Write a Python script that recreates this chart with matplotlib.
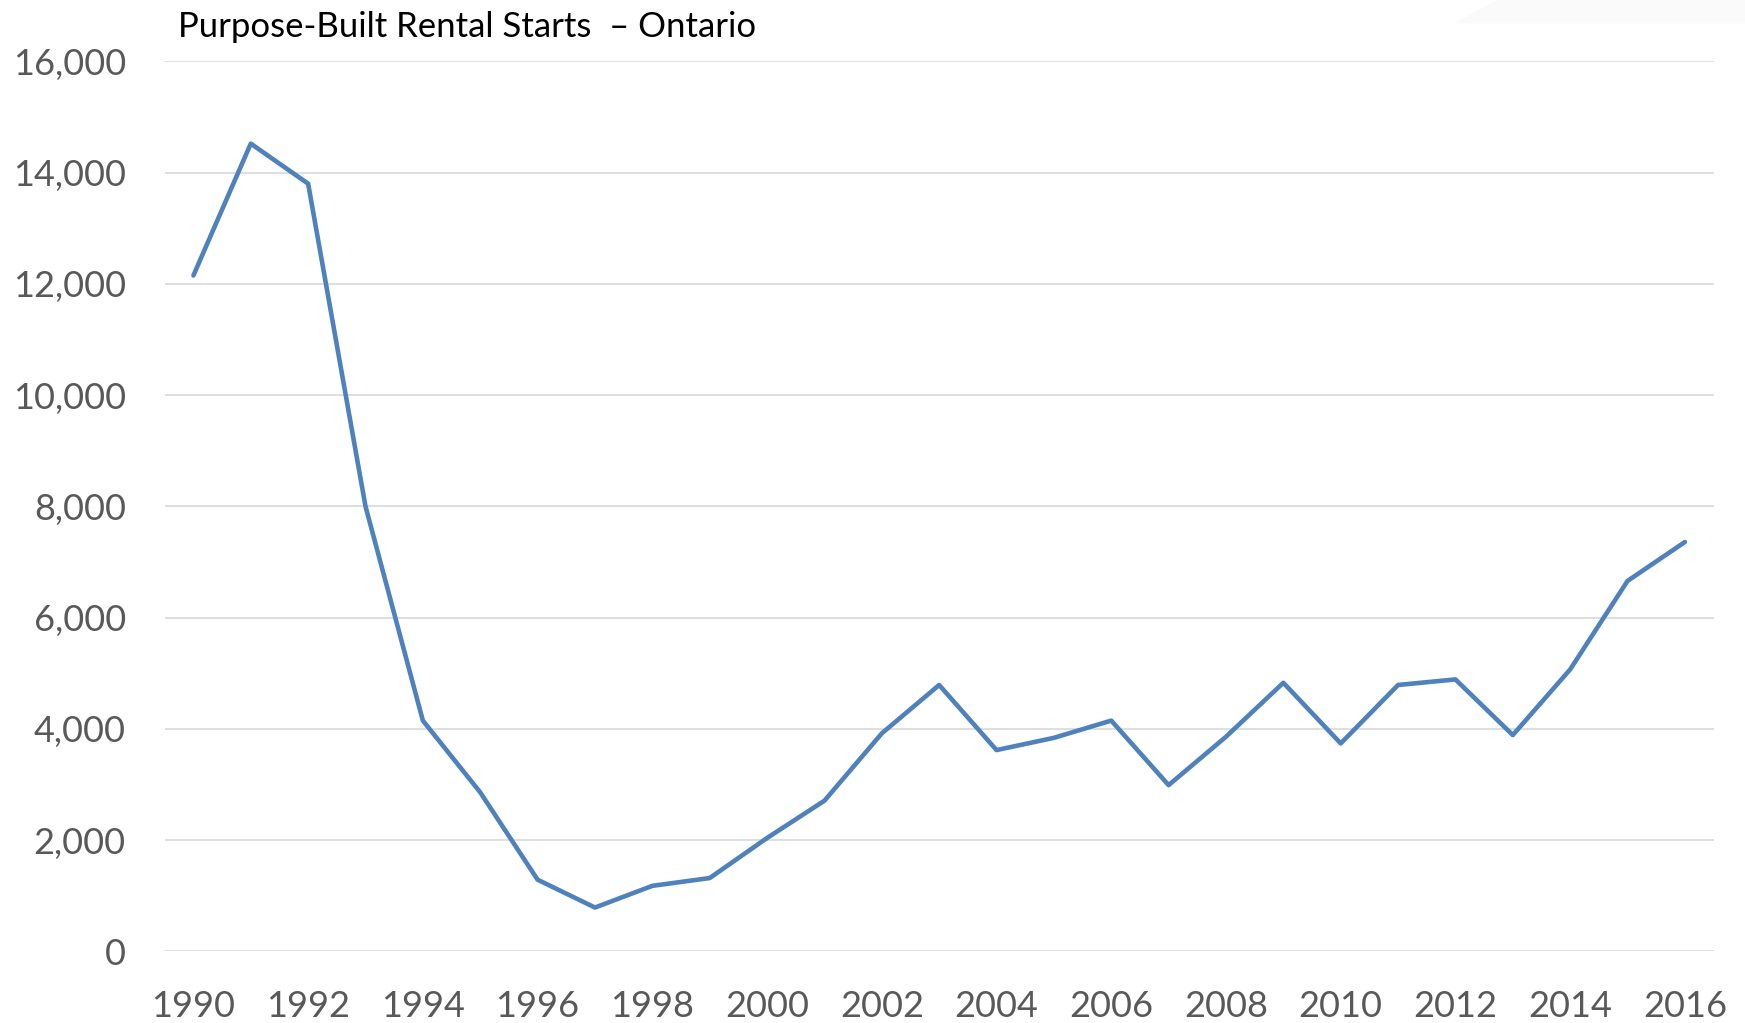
import matplotlib
matplotlib.use("Agg")
import matplotlib.pyplot as plt
import matplotlib.patches as mpatches
from matplotlib.ticker import FuncFormatter, MultipleLocator

# Purpose-built rental starts, Ontario (units)
years = list(range(1990, 2017))
starts = [12150, 14520, 13800, 8000, 4150, 2860, 1290, 790, 1180, 1320,
          2040, 2710, 3920, 4790, 3620, 3840, 4150, 2990, 3860, 4830,
          3740, 4790, 4890, 3890, 5070, 6660, 7360]
year_labels = [str(y) if (y - 1990) % 2 == 0 else "" for y in years]
title = "Purpose-Built Rental Starts  \u2013 Ontario"

plt.rcParams['font.family'] = ['Lato', 'DejaVu Sans']

fig = plt.figure(figsize=(17.45, 10.23), dpi=100)
ax = fig.add_axes([0.0944, 0.0699, 0.8876, 0.8702])

# faint slide decoration in the top right corner
fig.patches.append(mpatches.Polygon([(0.833, 0.977), (0.858, 1.0), (1.0, 1.0), (1.0, 0.977)],
                                    closed=True, transform=fig.transFigure,
                                    facecolor='#FAFAFA', edgecolor='none', zorder=0))

ax.plot(years, starts, color='#4F81BD', linewidth=3.3, solid_capstyle='round',
        solid_joinstyle='round', zorder=3)

ax.set_xlim(1989.5, 2016.5)
ax.set_ylim(0, 16000)
ax.yaxis.set_major_locator(MultipleLocator(2000))
ax.yaxis.set_major_formatter(FuncFormatter(lambda v, p: f"{int(v):,}"))
ax.set_xticks(years)
ax.set_xticklabels(year_labels)

ax.grid(axis='y', color='#D9D9D9', linewidth=1.2, zorder=0)
ax.set_axisbelow(True)
for s in ax.spines.values():
    s.set_visible(False)
ax.tick_params(axis='both', length=0, colors='#595959', labelsize=26)
ax.tick_params(axis='y', pad=28)
ax.tick_params(axis='x', pad=28)

fig.text(0.102, 0.974, title, fontsize=25, color='black', ha='left', va='center')

fig.savefig("out.png", dpi=100, facecolor='white')
